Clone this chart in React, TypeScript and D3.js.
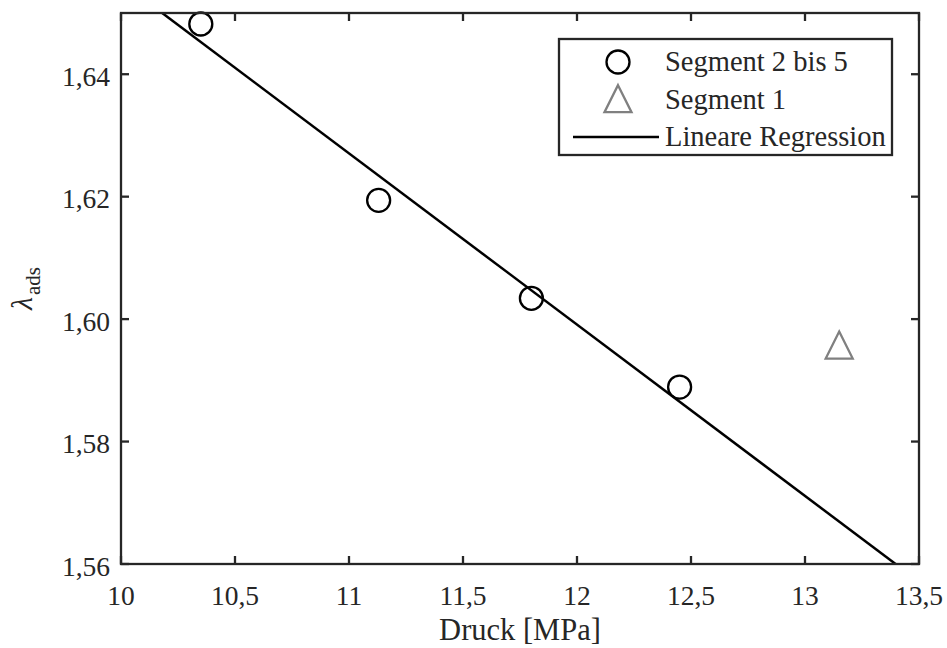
import React from "react";
import * as d3 from "d3";

const segX = [10.35, 11.13, 11.8, 12.45];
const segY = [1.6482, 1.6194, 1.6034, 1.5889];
const seg1X = [13.15];
const seg1Y = [1.5957];
const xTicks = [10, 10.5, 11, 11.5, 12, 12.5, 13, 13.5];
const yTicks = [1.56, 1.58, 1.6, 1.62, 1.64];
const legendLabels = ["Segment 2 bis 5", "Segment 1", "Lineare Regression"];
const xLabel = "Druck [MPa]";

const W = 947, H = 648;
const M = { left: 121, right: 919, top: 13, bottom: 564 };
const FONT = "Liberation Serif";
const AX = "#262626";

export default function App() {
  const x = d3.scaleLinear().domain([10, 13.5]).range([M.left, M.right]);
  const y = d3.scaleLinear().domain([1.56, 1.65]).range([M.bottom, M.top]);

  // least-squares regression from the circle data
  const mx = d3.mean(segX)!, my = d3.mean(segY)!;
  let sxy = 0, sxx = 0;
  segX.forEach((v, i) => { sxy += (v - mx) * (segY[i] - my); sxx += (v - mx) ** 2; });
  const b = sxy / sxx, a = my - b * mx;
  const lx = [10, 13.5];
  const line = d3.line<number>().x((v) => x(v)).y((v) => y(a + b * v));

  const fmt = (v: number, d: number) => v.toFixed(d).replace(".", ",");
  const fmtX = (v: number) => (Number.isInteger(v) ? String(v) : fmt(v, 1));

  const tick = 8;
  const tri = (cx: number, cy: number, s: number) =>
    `M${cx},${cy - s * 0.55} L${cx + s / 2},${cy + s * 0.45} L${cx - s / 2},${cy + s * 0.45} Z`;

  const lgX = 559, lgY = 39, lgW = 333, lgH = 116;

  return (
    <svg width={W} height={H} style={{ position: "absolute", left: 0, top: 0, background: "#fff" }} fontFamily={FONT}>
      <rect x={0} y={0} width={W} height={H} fill="#fff" />
      <defs>
        <clipPath id="plotclip">
          <rect x={M.left} y={M.top} width={M.right - M.left} height={M.bottom - M.top} />
        </clipPath>
      </defs>
      {/* regression line */}
      <path d={line(lx)!} clipPath="url(#plotclip)" fill="none" stroke="#000" strokeWidth={2.5} />
      {/* circles */}
      {segX.map((v, i) => (
        <circle key={i} cx={x(v)} cy={y(segY[i])} r={11.5} fill="none" stroke="#000" strokeWidth={2.3} />
      ))}
      {/* triangles */}
      {seg1X.map((v, i) => (
        <path key={i} d={tri(x(v), y(seg1Y[i]) + 1, 27)} fill="none" stroke="#808080" strokeWidth={2.3} />
      ))}
      {/* axes box */}
      <rect x={M.left} y={M.top} width={M.right - M.left} height={M.bottom - M.top} fill="none" stroke={AX} strokeWidth={2.3} />
      {xTicks.map((t) => (
        <g key={"x" + t}>
          <line x1={x(t)} x2={x(t)} y1={M.bottom} y2={M.bottom - tick} stroke={AX} strokeWidth={2.3} />
          <line x1={x(t)} x2={x(t)} y1={M.top} y2={M.top + tick} stroke={AX} strokeWidth={2.3} />
          <text x={x(t)} y={605} textAnchor="middle" fontSize={27.5} fill={AX}>{fmtX(t)}</text>
        </g>
      ))}
      {yTicks.map((t) => (
        <g key={"y" + t}>
          <line x1={M.left} x2={M.left + tick} y1={y(t)} y2={y(t)} stroke={AX} strokeWidth={2.3} />
          <line x1={M.right} x2={M.right - tick} y1={y(t)} y2={y(t)} stroke={AX} strokeWidth={2.3} />
          <text x={110} y={y(t) + 11.5} textAnchor="end" fontSize={27.5} fill={AX}>{fmt(t, 2)}</text>
        </g>
      ))}
      <text x={(M.left + M.right) / 2} y={640} textAnchor="middle" fontSize={30.5} fill={AX}>{xLabel}</text>
      <text transform={`translate(32,${(M.top + M.bottom) / 2}) rotate(-90)`} textAnchor="middle" fontSize={30} fill={AX}>
        <tspan fontStyle="italic">λ</tspan>
        <tspan fontSize={21} dy={8} dx={2}>ads</tspan>
      </text>
      {/* legend */}
      <rect x={lgX} y={lgY} width={lgW} height={lgH} fill="#fff" stroke={AX} strokeWidth={2.3} />
      <circle cx={618} cy={62} r={11.5} fill="none" stroke="#000" strokeWidth={2.3} />
      <path d={tri(618, 100, 27)} fill="none" stroke="#808080" strokeWidth={2.3} />
      <line x1={573} x2={659} y1={137} y2={137} stroke="#000" strokeWidth={2.5} />
      {legendLabels.map((l, i) => (
        <text key={l} x={665} y={71 + i * 37.5} fontSize={28.5} fill={AX}>{l}</text>
      ))}
    </svg>
  );
}
